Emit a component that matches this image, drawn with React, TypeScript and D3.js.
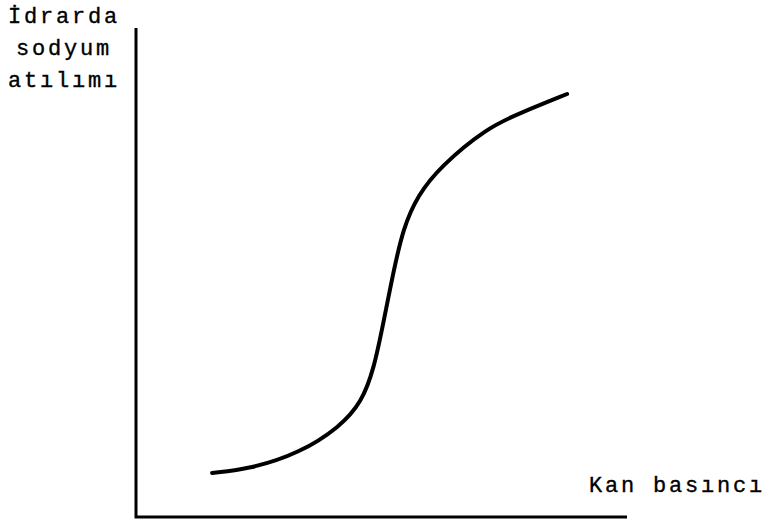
import React from "react";
import * as d3 from "d3";

const yLabelLines = ["İdrarda", "sodyum", "atılımı"];
const xLabel = "Kan basıncı";

// Blood pressure (relative units 0-100) vs urinary sodium excretion (relative units 0-100)
const pressure = [15.5, 23.2, 33.4, 41.5, 46.0, 48.5, 50.3, 52.3, 54.4, 57.4, 61.9, 71.5, 78.2, 87.8];
const excretion = [9.0, 9.8, 13.1, 18.4, 23.5, 30.5, 39.3, 49.5, 59.1, 65.8, 71.6, 79.6, 82.6, 86.5];

const W = 769;
const H = 523;
const left = 136;
const right = 627;
const top = 28;
const bottom = 517;

export default function App() {
  const x = d3.scaleLinear().domain([0, 100]).range([left, right]);
  const y = d3.scaleLinear().domain([0, 100]).range([bottom, top]);
  const pts: [number, number][] = pressure.map((p, i) => [p, excretion[i]]);
  const line = d3
    .line<[number, number]>()
    .x((d) => x(d[0]))
    .y((d) => y(d[1]))
    .curve(d3.curveBasis);

  const font = "'Courier New', Courier, 'Liberation Mono', monospace";
  const textProps = {
    fontFamily: font,
    fontSize: 22,
    letterSpacing: 2.8,
    fill: "#000",
    stroke: "#000",
    strokeWidth: 0.35,
  };
  return (
    <svg
      width={W}
      height={H}
      style={{ position: "absolute", left: 0, top: 0, background: "#fff" }}
    >
      <rect x={0} y={0} width={W} height={H} fill="#fff" />
      <path
        d={`M${x(0)},${y(100)}V${y(0)}H${x(100)}`}
        fill="none"
        stroke="#000"
        strokeWidth={3}
      />
      <path
        d={line(pts) || ""}
        fill="none"
        stroke="#000"
        strokeWidth={4}
        strokeLinecap="round"
      />
      {yLabelLines.map((t, i) => (
        <text key={t} x={64} y={23 + i * 32} textAnchor="middle" {...textProps}>
          {t}
        </text>
      ))}
      <text x={589} y={492} {...textProps}>
        {xLabel}
      </text>
    </svg>
  );
}
